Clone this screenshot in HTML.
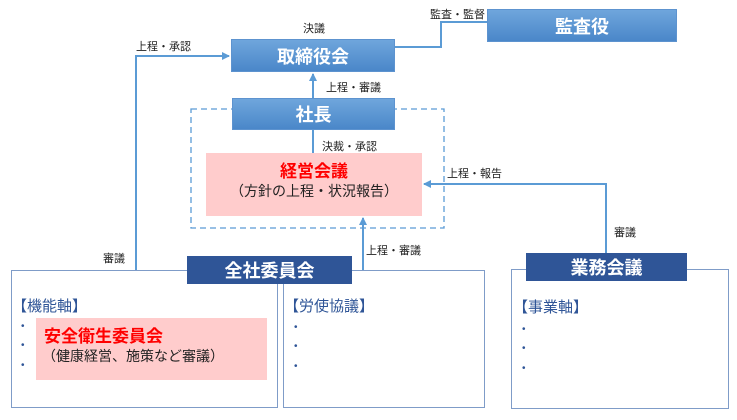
<!DOCTYPE html>
<html><head><meta charset="utf-8"><style>
body{margin:0;width:737px;height:420px;background:#fff;position:relative;overflow:hidden;font-family:"Liberation Sans","Noto Sans CJK JP",sans-serif}
.a{position:absolute;box-sizing:border-box}
.blue{background:linear-gradient(#6fa6dc,#4a87c9);color:#fff;font-weight:bold;display:flex;align-items:center;justify-content:center;border:1px solid #5d93cf}
.navy{background:#2f5597;color:#fff;font-weight:bold;display:flex;align-items:center;justify-content:center;font-size:18px}
.box{border:1.5px solid #7f9cc8;background:#fff}
.t{position:absolute;font-size:11px;color:#222;white-space:nowrap}
.hd{position:absolute;font-size:15px;color:#2f5597;white-space:nowrap}
.dot{position:absolute;font-size:10px;color:#2f5597}
</style></head><body>
<svg class="a" style="left:0;top:0" width="737" height="420">
<defs><marker id="ar" markerWidth="8" markerHeight="8" refX="7" refY="4" orient="auto" markerUnits="userSpaceOnUse"><path d="M0,0 L8,4 L0,8z" fill="#5b9bd5"/></marker></defs>
<g stroke="#5b9bd5" stroke-width="2" fill="none">
<path d="M136,270 V56 H229" marker-end="url(#ar)"/>
<path d="M313,98 V74" marker-end="url(#ar)"/>
<path d="M313,130 V153"/>
<path d="M363,270 V218" marker-end="url(#ar)"/>
<path d="M606,253 V184 H424" marker-end="url(#ar)"/>
<path d="M395,47 H441 V22 H487"/>
</g>
<rect x="191" y="109" width="253" height="119" fill="none" stroke="#5b9bd5" stroke-width="1.3" stroke-dasharray="6,4"/>
</svg>
<div class="a blue" style="left:231px;top:39px;width:164px;height:33px;font-size:18px">取締役会</div>
<div class="a blue" style="left:487px;top:9px;width:190px;height:33px;font-size:18px">監査役</div>
<div class="a blue" style="left:232px;top:98px;width:163px;height:32px;font-size:18px">社長</div>
<div class="a" style="left:206px;top:153px;width:216px;height:63px;background:#ffcccc;text-align:center">
<div style="color:#f00;font-weight:bold;font-size:17px;margin-top:8px;line-height:21px">経営会議</div>
<div style="font-size:14px;color:#222;line-height:19px">（方針の上程・状況報告）</div></div>
<div class="t" style="left:303px;top:20px">決議</div>
<div class="t" style="left:136px;top:38px">上程・承認</div>
<div class="t" style="left:430px;top:6px">監査・監督</div>
<div class="t" style="left:326px;top:79px">上程・審議</div>
<div class="t" style="left:322px;top:138px">決裁・承認</div>
<div class="t" style="left:447px;top:165px">上程・報告</div>
<div class="t" style="left:614px;top:224px">審議</div>
<div class="t" style="left:366px;top:242px">上程・審議</div>
<div class="t" style="left:103px;top:250px">審議</div>
<div class="a box" style="left:11px;top:270px;width:267px;height:138px"></div>
<div class="a box" style="left:283px;top:270px;width:202px;height:138px"></div>
<div class="a box" style="left:511px;top:269px;width:218px;height:140px"></div>
<div class="a navy" style="left:187px;top:256px;width:165px;height:28px">全社委員会</div>
<div class="a navy" style="left:526px;top:253px;width:161px;height:28px">業務会議</div>
<div class="hd" style="left:12px;top:295px">【機能軸】</div>
<div class="hd" style="left:284px;top:295px">【労使協議】</div>
<div class="hd" style="left:513px;top:296px">【事業軸】</div>
<div class="dot" style="left:21px;top:321px">•</div><div class="dot" style="left:21px;top:340px">•</div><div class="dot" style="left:21px;top:360px">•</div>
<div class="dot" style="left:294px;top:322px">•</div><div class="dot" style="left:294px;top:341px">•</div><div class="dot" style="left:294px;top:361px">•</div>
<div class="dot" style="left:522px;top:324px">•</div><div class="dot" style="left:522px;top:343px">•</div><div class="dot" style="left:522px;top:363px">•</div>
<div class="a" style="left:36px;top:318px;width:231px;height:62px;background:#ffcccc">
<div style="color:#f00;font-weight:bold;font-size:17px;margin:9px 0 0 8px;line-height:20px">安全衛生委員会</div>
<div style="font-size:14px;color:#222;margin-left:6px;line-height:19px">（健康経営、施策など審議）</div></div>
</body></html>
